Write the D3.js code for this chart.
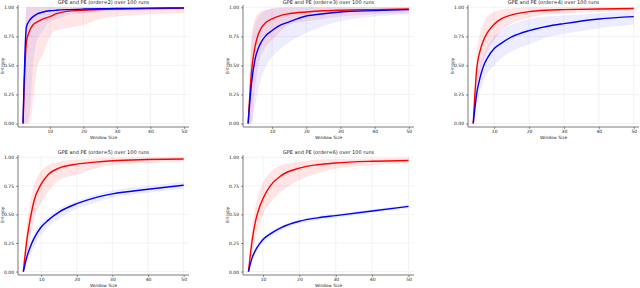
<!DOCTYPE html>
<html>
<head>
<meta charset="utf-8">
<script src="https://cdn.jsdelivr.net/npm/d3@7"></script>
<style>
  body { margin: 0; background: #fff; }
  svg { display: block; font-family: 'DejaVu Sans', sans-serif; }
</style>
</head>
<body>
<svg id="chart" width="640" height="288"></svg>
<script>
const xs2 = [2, 3, 4, 5, 6, 8, 10, 12, 15, 20, 25, 30, 40, 50]
const gpeMean2 = [0, 0.70, 0.80, 0.85, 0.87, 0.90, 0.92, 0.945, 0.965, 0.975, 0.98, 0.985, 0.99, 0.992]
const gpeLo2 = [0, 0, 0, 0.2, 0.45, 0.6, 0.75, 0.8, 0.82, 0.85, 0.9, 0.92, 0.94, 0.95]
const gpeHi2 = [0, 1, 1, 1, 1, 1, 1, 1, 1, 1, 1, 1, 1, 1]
const peMean2 = [0, 0.83, 0.89, 0.92, 0.94, 0.96, 0.97, 0.975, 0.98, 0.985, 0.988, 0.99, 0.993, 0.995]
const peLo2 = [0, 0, 0.1, 0.5, 0.7, 0.8, 0.88, 0.9, 0.93, 0.95, 0.96, 0.97, 0.975, 0.98]
const peHi2 = [0, 1, 1, 1, 1, 1, 1, 1, 1, 1, 1, 1, 1, 1]

const xs3 = [3, 4, 5, 6, 7, 8, 10, 12, 15, 20, 25, 30, 40, 50]
const gpeMean3 = [0, 0.45, 0.66, 0.77, 0.83, 0.865, 0.9, 0.925, 0.945, 0.96, 0.97, 0.975, 0.98, 0.985]
const gpeLo3 = [0, 0, 0.3, 0.5, 0.6, 0.65, 0.72, 0.78, 0.85, 0.88, 0.9, 0.92, 0.94, 0.95]
const gpeHi3 = [0, 0.75, 0.9, 0.95, 0.97, 0.98, 0.99, 0.995, 1, 1, 1, 1, 1, 1]
const peMean3 = [0, 0.35, 0.55, 0.65, 0.71, 0.75, 0.80, 0.84, 0.875, 0.925, 0.945, 0.96, 0.972, 0.98]
const peLo3 = [0, 0, 0.15, 0.3, 0.4, 0.48, 0.57, 0.63, 0.7, 0.78, 0.84, 0.88, 0.92, 0.94]
const peHi3 = [0, 0.7, 0.85, 0.92, 0.95, 0.97, 0.99, 1, 1, 1, 1, 1, 1, 1]

const xs4 = [4, 5, 6, 7, 8, 10, 12, 15, 20, 25, 30, 40, 50]
const gpeMean4 = [0, 0.47, 0.63, 0.72, 0.78, 0.855, 0.9, 0.935, 0.963, 0.975, 0.98, 0.986, 0.99]
const gpeLo4 = [0, 0.3, 0.45, 0.55, 0.62, 0.72, 0.8, 0.86, 0.91, 0.94, 0.95, 0.96, 0.97]
const gpeHi4 = [0, 0.6, 0.78, 0.87, 0.92, 0.96, 0.98, 0.99, 1, 1, 1, 1, 1]
const peMean4 = [0, 0.26, 0.40, 0.50, 0.56, 0.645, 0.69, 0.745, 0.80, 0.835, 0.86, 0.9, 0.92]
const peLo4 = [0, 0.15, 0.28, 0.37, 0.43, 0.5, 0.56, 0.62, 0.68, 0.74, 0.77, 0.82, 0.85]
const peHi4 = [0, 0.35, 0.5, 0.6, 0.66, 0.75, 0.8, 0.85, 0.9, 0.92, 0.93, 0.95, 0.97]

const xs5 = [5, 6, 7, 8, 10, 12, 15, 20, 25, 30, 40, 50]
const gpeMean5 = [0, 0.28, 0.47, 0.62, 0.765, 0.85, 0.905, 0.94, 0.958, 0.97, 0.98, 0.985]
const gpeLo5 = [0, 0.15, 0.3, 0.45, 0.6, 0.7, 0.8, 0.85, 0.9, 0.93, 0.95, 0.96]
const gpeHi5 = [0, 0.4, 0.62, 0.75, 0.88, 0.93, 0.96, 0.98, 0.99, 0.995, 1, 1]
const peMean5 = [0, 0.13, 0.22, 0.29, 0.39, 0.45, 0.52, 0.594, 0.645, 0.68, 0.72, 0.756]
const peLo5 = [0, 0.08, 0.15, 0.22, 0.32, 0.39, 0.46, 0.55, 0.6, 0.645, 0.69, 0.725]
const peHi5 = [0, 0.16, 0.26, 0.33, 0.42, 0.48, 0.55, 0.62, 0.67, 0.71, 0.75, 0.785]

const xs6 = [6, 7, 8, 9, 10, 12, 15, 20, 25, 30, 40, 50]
const gpeMean6 = [0, 0.27, 0.45, 0.56, 0.64, 0.75, 0.84, 0.905, 0.935, 0.95, 0.965, 0.972]
const gpeLo6 = [0, 0.15, 0.3, 0.4, 0.5, 0.6, 0.7, 0.8, 0.86, 0.9, 0.93, 0.95]
const gpeHi6 = [0, 0.38, 0.58, 0.7, 0.78, 0.87, 0.93, 0.96, 0.98, 0.985, 0.99, 0.995]
const peMean6 = [0, 0.12, 0.19, 0.24, 0.28, 0.33, 0.385, 0.44, 0.47, 0.49, 0.53, 0.57]
const peLo6 = [0, 0.09, 0.16, 0.21, 0.25, 0.3, 0.36, 0.42, 0.45, 0.47, 0.515, 0.555]
const peHi6 = [0, 0.14, 0.21, 0.26, 0.3, 0.35, 0.4, 0.455, 0.485, 0.505, 0.545, 0.585]

const orders = [2, 3, 4, 5, 6]
const xTicks = [10, 20, 30, 40, 50]
const yTicks = [0, 0.25, 0.5, 0.75, 1]

const panels = [
  {order: 2, xs: xs2, gpe: [gpeMean2, gpeLo2, gpeHi2], pe: [peMean2, peLo2, peHi2]},
  {order: 3, xs: xs3, gpe: [gpeMean3, gpeLo3, gpeHi3], pe: [peMean3, peLo3, peHi3]},
  {order: 4, xs: xs4, gpe: [gpeMean4, gpeLo4, gpeHi4], pe: [peMean4, peLo4, peHi4]},
  {order: 5, xs: xs5, gpe: [gpeMean5, gpeLo5, gpeHi5], pe: [peMean5, peLo5, peHi5]},
  {order: 6, xs: xs6, gpe: [gpeMean6, gpeLo6, gpeHi6], pe: [peMean6, peLo6, peHi6]}
]

const colLeft = [18, 243, 468]
const rowTop = [5, 155]
const rowHeight = [122, 120]
const pw = 171

let svg = d3.select('#chart')

panels.forEach(function (p, i) {
  const left = colLeft[i % 3]
  const row = Math.floor(i / 3)
  const top = rowTop[row]
  const ph = rowHeight[row]
  let g = svg.append('g').attr('transform', 'translate(' + left + ',' + top + ')')

  let x = d3.scaleLinear().domain([p.order - 1.5, 51.5]).range([0, pw])
  let y = d3.scaleLinear().domain([-0.03, 1.02]).range([ph, 0])

  // grid
  g.append('g').selectAll('line').data(xTicks).enter().append('line')
    .attr('x1', d => x(d)).attr('x2', d => x(d))
    .attr('y1', 0).attr('y2', ph)
    .style('stroke', '#ebebeb').style('stroke-width', 0.6)
  g.append('g').selectAll('line').data(yTicks).enter().append('line')
    .attr('x1', 0).attr('x2', pw)
    .attr('y1', d => y(d)).attr('y2', d => y(d))
    .style('stroke', '#ebebeb').style('stroke-width', 0.6)

  const rows = p.xs.map((v, k) => ({x: v, gm: p.gpe[0][k], gl: p.gpe[1][k], gh: p.gpe[2][k],
    pm: p.pe[0][k], pl: p.pe[1][k], ph: p.pe[2][k]}))

  const band = (lo, hi) => d3.area().curve(d3.curveMonotoneX)
    .x(d => x(d.x)).y0(d => y(d[lo])).y1(d => y(d[hi]))
  const mean = key => d3.line().curve(d3.curveMonotoneX)
    .x(d => x(d.x)).y(d => y(d[key]))

  g.append('path').datum(rows).attr('d', band('gl', 'gh'))
    .style('fill', '#ff0000').style('fill-opacity', 0.1)
  g.append('path').datum(rows).attr('d', band('pl', 'ph'))
    .style('fill', '#0000ff').style('fill-opacity', 0.07)
  g.append('path').datum(rows).attr('d', mean('gm'))
    .style('fill', 'none').style('stroke', '#ff0000').style('stroke-width', 1.4)
  g.append('path').datum(rows).attr('d', mean('pm'))
    .style('fill', 'none').style('stroke', '#0000ff').style('stroke-width', 1.4)

  // axes
  let xa = g.append('g').attr('transform', 'translate(0,' + ph + ')')
    .call(d3.axisBottom(x).tickValues(xTicks).tickSize(2).tickPadding(1.2).tickFormat(d3.format('d')))
  let ya = g.append('g')
    .call(d3.axisLeft(y).tickValues(yTicks).tickSize(2).tickPadding(2).tickFormat(d3.format('.2f')))
  for (let a of [xa, ya]) {
    a.select('.domain').style('stroke', '#444').style('stroke-width', 0.7)
    a.selectAll('.tick line').style('stroke', '#444').style('stroke-width', 0.6)
    a.selectAll('text').style('font-size', '4.5px').style('fill', '#222').style('font-family', 'DejaVu Sans')
  }
  xa.select('.domain').attr('d', 'M0,0H' + pw)
  ya.select('.domain').attr('d', 'M0,0V' + ph)

  g.append('text').attr('x', pw / 2).attr('y', -0.8)
    .attr('text-anchor', 'middle').style('font-size', '5px').style('fill', '#222')
    .text('GPE and PE (order=' + orders[i] + ') over 100 runs')
  g.append('text').attr('x', pw / 2).attr('y', ph + 11.8)
    .attr('text-anchor', 'middle').style('font-size', '4.3px').style('fill', '#222')
    .text('Window Size')
  g.append('text').attr('transform', 'translate(' + (-14) + ',' + (ph / 2) + ') rotate(-90)')
    .attr('text-anchor', 'middle').style('font-size', '4.3px').style('fill', '#222')
    .text('Entropy')
})
</script>
</body>
</html>
